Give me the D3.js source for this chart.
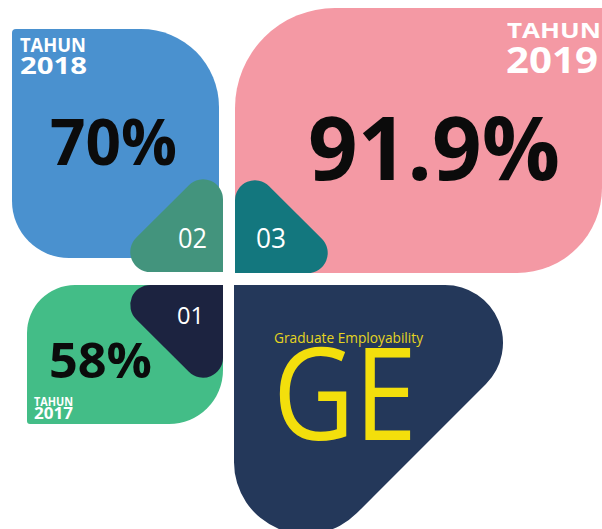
<!DOCTYPE html>
<html>
<head>
<meta charset="utf-8">
<script src="https://cdn.jsdelivr.net/npm/d3@7"></script>
<style>
  body { margin: 0; background: #fff; }
  svg { display: block; }
  text { font-family: "Open Sans", "DejaVu Sans", sans-serif; }
</style>
</head>
<body>
<div id="chart"></div>
<script>
// data
var years = ["2017", "2018", "2019"];
var rates = [58, 70, 91.9];
var steps = ["01", "02", "03"];
var yearWord = "TAHUN";
var geTitle = "GE";
var geSubtitle = "Graduate Employability";

var width = 602, height = 529;

var colors = {
    petal: ["#43bd87", "#4a91cf", "#f499a4"],
    step: ["#1c2340", "#43947d", "#13777e"],
    ge: "#24385a",
    yellow: "#f3df0c",
    ink: "#0b0b0b"
};

// petal outlines, one per year: corners [x, y, radius]
var petalCorners = [
    [[27, 285, 48], [223, 285, 0], [223, 424, 54], [27, 424, 3]],
    [[12, 29, 4], [219, 29, 78], [219, 258, 0], [12, 258, 57]],
    [[235, 8, 100], [602, 8, 0], [602, 273, 85], [235, 273, 0]]
];

// small numbered tiles near the middle
var stepCorners = [
    [[223, 285, 0], [223, 406, 20], [102, 285, 20]],
    [[223, 272, 0], [102, 272, 20], [223, 151, 20]],
    [[235, 273, 0], [235, 152, 20], [356, 273, 20]]
];

var geCorners = [[234, 285, 0], [585, 285, 58], [234, 636, 72]];

// label placement per year: [x, baseline, fontSize, textLength]
var rateLayout = [
    {x: 49, y: 378, size: 48, len: 103},
    {x: 50, y: 165, size: 64, len: 127},
    {x: 308, y: 180, size: 88, len: 252}
];
var wordLayout = [
    {x: 34, y: 406, size: 12.6, len: 39},
    {x: 20, y: 52, size: 19.5, len: 66},
    {x: 507, y: 38, size: 21, len: 94}
];
var yearLayout = [
    {x: 34, y: 419, size: 15.5, len: 39},
    {x: 20, y: 74, size: 24, len: 67},
    {x: 506, y: 73, size: 36, len: 92}
];
var stepLayout = [
    {x: 177, y: 324, size: 24, len: 27},
    {x: 178, y: 248, size: 28, len: 29},
    {x: 256, y: 248, size: 28, len: 30}
];

function roundedPath(pts) {
    var p = d3.path();
    var n = pts.length;
    var last = pts[n - 1], first = pts[0];
    p.moveTo((last[0] + first[0]) / 2, (last[1] + first[1]) / 2);
    for (var i = 0; i < n; i++) {
        var c = pts[i], nx = pts[(i + 1) % n];
        if (c[2] > 0) p.arcTo(c[0], c[1], nx[0], nx[1], c[2]);
        else p.lineTo(c[0], c[1]);
    }
    p.closePath();
    return p.toString();
}

var fmt = d3.format("~");

var svg = d3.select("#chart").append("svg")
    .attr("width", width)
    .attr("height", height);

// big petals
svg.selectAll(".petal")
    .data(years)
    .enter().append("path")
    .attr("class", "petal")
    .attr("d", function(d, i) { return roundedPath(petalCorners[i]); })
    .style("fill", function(d, i) { return colors.petal[i]; });

svg.append("path")
    .attr("d", roundedPath(geCorners))
    .style("fill", colors.ge);

// numbered tiles
svg.selectAll(".step")
    .data(steps)
    .enter().append("path")
    .attr("class", "step")
    .attr("d", function(d, i) { return roundedPath(stepCorners[i]); })
    .style("fill", function(d, i) { return colors.step[i]; });

function addText(cls, data, layout, fill, weight, label) {
    svg.selectAll("." + cls)
        .data(data)
        .enter().append("text")
        .attr("class", cls)
        .attr("x", function(d, i) { return layout[i].x; })
        .attr("y", function(d, i) { return layout[i].y; })
        .attr("textLength", function(d, i) { return layout[i].len; })
        .attr("lengthAdjust", "spacingAndGlyphs")
        .style("font-size", function(d, i) { return layout[i].size + "px"; })
        .style("font-weight", weight)
        .style("fill", fill)
        .text(label);
}

addText("rate", rates, rateLayout, colors.ink, 700, function(d) { return fmt(d) + "%"; });
addText("word", years, wordLayout, "#fff", 700, function() { return yearWord; });
addText("year", years, yearLayout, "#fff", 700, function(d) { return d; });
addText("num", steps, stepLayout, "#fff", 400, function(d) { return d; });

// GE block
svg.append("text")
    .attr("x", 274).attr("y", 343)
    .attr("textLength", 149)
    .attr("lengthAdjust", "spacingAndGlyphs")
    .style("font-size", "14px")
    .style("fill", "#e6d520")
    .text(geSubtitle);

svg.append("text")
    .attr("x", 273).attr("y", 440)
    .attr("textLength", 144)
    .attr("lengthAdjust", "spacingAndGlyphs")
    .style("font-size", "129px")
    .style("font-weight", 500)
    .style("fill", colors.yellow)
    .text(geTitle);
</script>
</body>
</html>
